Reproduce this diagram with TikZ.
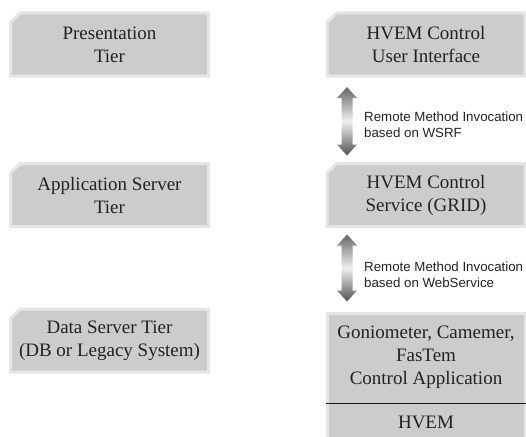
\documentclass[tikz,border=0pt]{standalone}
\usepackage{fontspec}
\setmainfont{Liberation Serif}
\newfontfamily\lsans{Liberation Sans}
\usetikzlibrary{shapes.misc,calc}
\definecolor{boxfill}{HTML}{CCCCCC}
\definecolor{boxedge}{HTML}{E6E6E6}
\definecolor{txt}{HTML}{222222}
\tikzset{
  tierbox/.style={chamfered rectangle, chamfered rectangle corners=north west,
    chamfered rectangle xsep=5.5pt, chamfered rectangle ysep=4pt,
    fill=boxfill, draw=boxedge, line width=3pt, inner sep=0pt,
    minimum width=198pt, minimum height=63pt, align=center, text=txt,
    font=\fontsize{19}{23}\selectfont},
  plaintext/.style={inner sep=0pt, align=center, text=txt, font=\fontsize{19}{23}\selectfont},
  rmilabel/.style={anchor=west, inner sep=0pt, align=left, text=txt,
    font=\lsans\fontsize{13.3}{15.5}\selectfont},
  fatarrow/.style={top color=black!60, bottom color=black!68, middle color=black!6, draw=none}
}
\newcommand{\fatarrowpath}[2]{%
  \path[fatarrow] (#1) -- ++(10,-11) -- ++(-4.5,0) -- ($(#2)+(5.5,11)$) -- ++(4.5,0) -- (#2)
     -- ++(-10,11) -- ++(4.5,0) -- ($(#1)+(-5.5,-11)$) -- ++(-4.5,0) -- cycle;}
\begin{document}
\begin{tikzpicture}[x=1pt,y=1pt]
\clip (0,0) rectangle (526,-436);
\useasboundingbox (0,0) rectangle (526,-436);
% left tier boxes
\node[tierbox] (pres) at (109.5,-44.5) {Presentation\\Tier};
\node[tierbox] (app) at (109.5,-195) {Application Server\\Tier};
\node[tierbox] (data) at (109.5,-340.5) {Data Server Tier\\(DB or Legacy System)};
% right boxes
\node[tierbox] (ui) at (426,-44.5) {HVEM Control\\User Interface};
\node[tierbox] (svc) at (426,-195) {HVEM Control\\Service (GRID)};
\node[tierbox, minimum height=131.5pt] (dev) at (426,-379.25) {};
\node[plaintext] (ctrl) at (426,-357) {Goniometer, Camemer,\\FasTem\\Control Application};
\node[plaintext] (hvem) at (426,-422) {HVEM};
\draw[line width=1pt, black!90] (dev.west |- 0,-403) -- (dev.east |- 0,-403);
% arrows
\coordinate (a1t) at ($(ui.south)+(-79,-9.5)$);
\coordinate (a1b) at ($(svc.north)+(-79,6.5)$);
\fatarrowpath{a1t}{a1b}
\coordinate (a2t) at ($(svc.south)+(-79,-6.5)$);
\coordinate (a2b) at ($(dev.north)+(-79,10.5)$);
\fatarrowpath{a2t}{a2b}
\node[rmilabel] (l1) at (364,-124.5) {Remote Method Invocation\\based on WSRF};
\node[rmilabel] (l2) at (364,-274.5) {Remote Method Invocation\\based on WebService};
\end{tikzpicture}
\end{document}
